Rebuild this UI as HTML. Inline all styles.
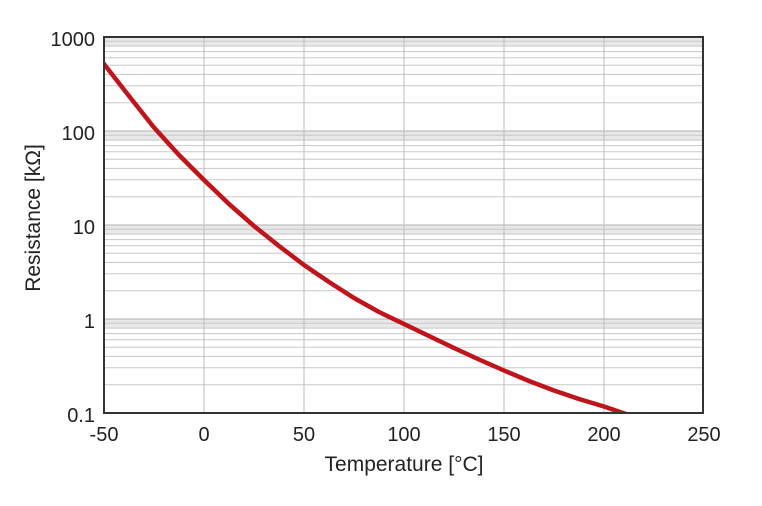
<!DOCTYPE html>
<html><head><meta charset="utf-8"><style>
html,body{margin:0;padding:0;background:#fff;}
svg{display:block;font-family:"Liberation Sans",sans-serif;}
</style></head><body>
<svg width="762" height="506" viewBox="0 0 762 506" xmlns="http://www.w3.org/2000/svg">
<defs><clipPath id="c"><rect x="104" y="37" width="599" height="376"/></clipPath></defs>
<g id="bands" fill="#e8e8e8">
<rect x="104" y="37" width="599" height="9"/>
<rect x="104" y="131" width="599" height="9"/>
<rect x="104" y="225" width="599" height="9"/>
<rect x="104" y="319" width="599" height="9"/>
</g>
<g stroke="#c8c8c8" stroke-width="1">
<path d="M104 41.3H703M104 46.1H703M104 51.6H703M104 57.8H703M104 65.3H703M104 74.4H703M104 85.8H703M104 102.7H703
M104 135.3H703M104 140.1H703M104 145.6H703M104 151.8H703M104 159.3H703M104 168.4H703M104 179.8H703M104 196.7H703
M104 229.3H703M104 234.1H703M104 239.6H703M104 245.8H703M104 253.3H703M104 262.4H703M104 273.8H703M104 290.7H703
M104 323.3H703M104 328.1H703M104 333.6H703M104 339.8H703M104 347.3H703M104 356.4H703M104 367.8H703M104 384.7H703"/>
<path d="M104 131H703M104 225H703M104 319H703" stroke="#b0b0b0"/>
<path d="M204 37V413M304 37V413M404 37V413M504 37V413M604 37V413" stroke="#bdbdbd"/>
</g>
<polyline clip-path="url(#c)" fill="none" stroke="#c0141c" stroke-width="4.5" stroke-linejoin="round" stroke-linecap="round"
points="104,64 129,96 154,127.5 179,155 204,180 229,204 254,226 279,246 304,265 329,282 354,298 379,312 404,324 429,336 454,348 479,359.5 504,370.5 529,381 554,390.5 579,399 604,406.5 620,412 626,414"/>
<rect x="104" y="37" width="599" height="376" fill="none" stroke="#333" stroke-width="2"/>
<g font-size="20" fill="#222" text-anchor="end">
<text x="95" y="46">1000</text>
<text x="95" y="140">100</text>
<text x="95" y="234">10</text>
<text x="95" y="328">1</text>
<text x="95" y="422">0.1</text>
</g>
<g font-size="20" fill="#222" text-anchor="middle">
<text x="104" y="441">-50</text>
<text x="204" y="441">0</text>
<text x="304" y="441">50</text>
<text x="404" y="441">100</text>
<text x="504" y="441">150</text>
<text x="604" y="441">200</text>
<text x="704" y="441">250</text>
<text x="404" y="471" font-size="21">Temperature [°C]</text>
<text transform="translate(40,218) rotate(-90)" font-size="21">Resistance [kΩ]</text>
</g>
</svg>
</body></html>
